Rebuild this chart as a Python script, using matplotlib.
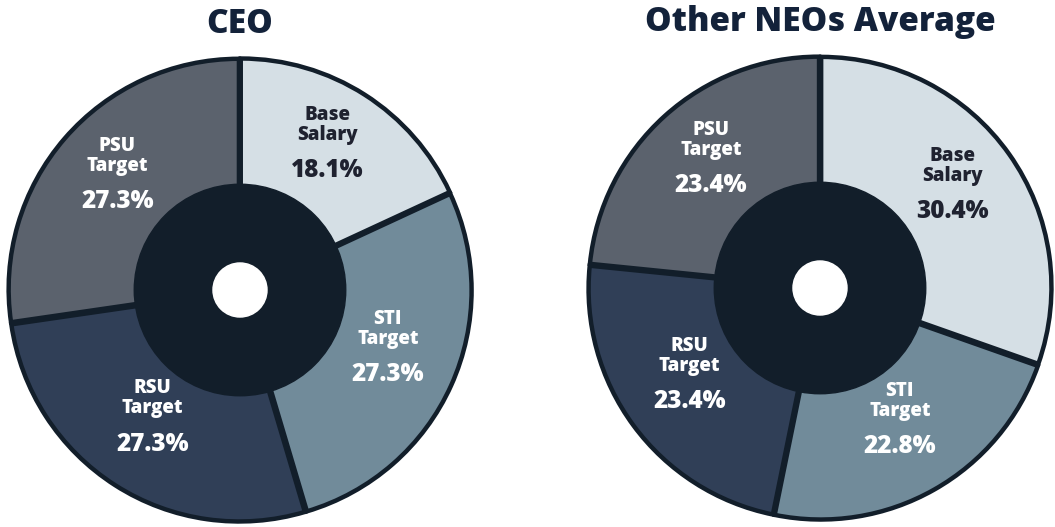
import numpy as np
import matplotlib.pyplot as plt
from matplotlib.patches import Circle

plt.rcParams['font.family'] = ['Open Sans', 'DejaVu Sans']

names = ['Base\nSalary', 'STI\nTarget', 'RSU\nTarget', 'PSU\nTarget']
ceo_values = [18.1, 27.3, 27.3, 27.3]
neo_values = [30.4, 22.8, 23.4, 23.4]
titles = ['CEO', 'Other NEOs Average']

colors = ['#d5dfe5', '#718b9a', '#303f57', '#5b626d']
text_colors = ['#1f2230', 'white', 'white', 'white']
dark = '#121e2a'


def donut(ax, values, title):
    wedges, _ = ax.pie(values, colors=colors, startangle=90, counterclock=False,
                       radius=0.98, explode=[0.006] * len(values),
                       wedgeprops=dict(edgecolor=dark, linewidth=3.2))
    for w in wedges:
        w.set_clip_on(False)
    ax.add_patch(Circle((0, 0), 0.45, color=dark, zorder=5))
    ax.add_patch(Circle((0, 0), 0.115, color='white', zorder=6))
    for w, name, v, tc in zip(wedges, names, values, text_colors):
        mid = np.deg2rad((w.theta1 + w.theta2) / 2)
        r = 0.69
        x, y = r * np.cos(mid), r * np.sin(mid)
        ax.text(x, y + 0.12, name, ha='center', va='center', color=tc,
                fontsize=13.5, fontweight=800, linespacing=1.0, zorder=7)
        ax.text(x, y - 0.075, f'{v:.1f}%', ha='center', va='center', color=tc,
                fontsize=17.5, fontweight=800, zorder=7)
    ax.set_xlim(-1, 1)
    ax.set_ylim(-1, 1)
    ax.set_aspect('equal')
    ax.axis('off')
    ax.text(0, 1.13, title, ha='center', va='center', color='#13223a',
            fontsize=24, fontweight=800, clip_on=False)


W, H = 1055, 527
fig = plt.figure(figsize=(W / 100, H / 100), dpi=100)
R = 235
ax1 = fig.add_axes([(240 - R) / W, (H - 290 - R) / H, 2 * R / W, 2 * R / H])
ax2 = fig.add_axes([(820 - R) / W, (H - 288 - R) / H, 2 * R / W, 2 * R / H])
donut(ax1, ceo_values, titles[0])
donut(ax2, neo_values, titles[1])

fig.savefig('out.png', dpi=100, facecolor='white')
